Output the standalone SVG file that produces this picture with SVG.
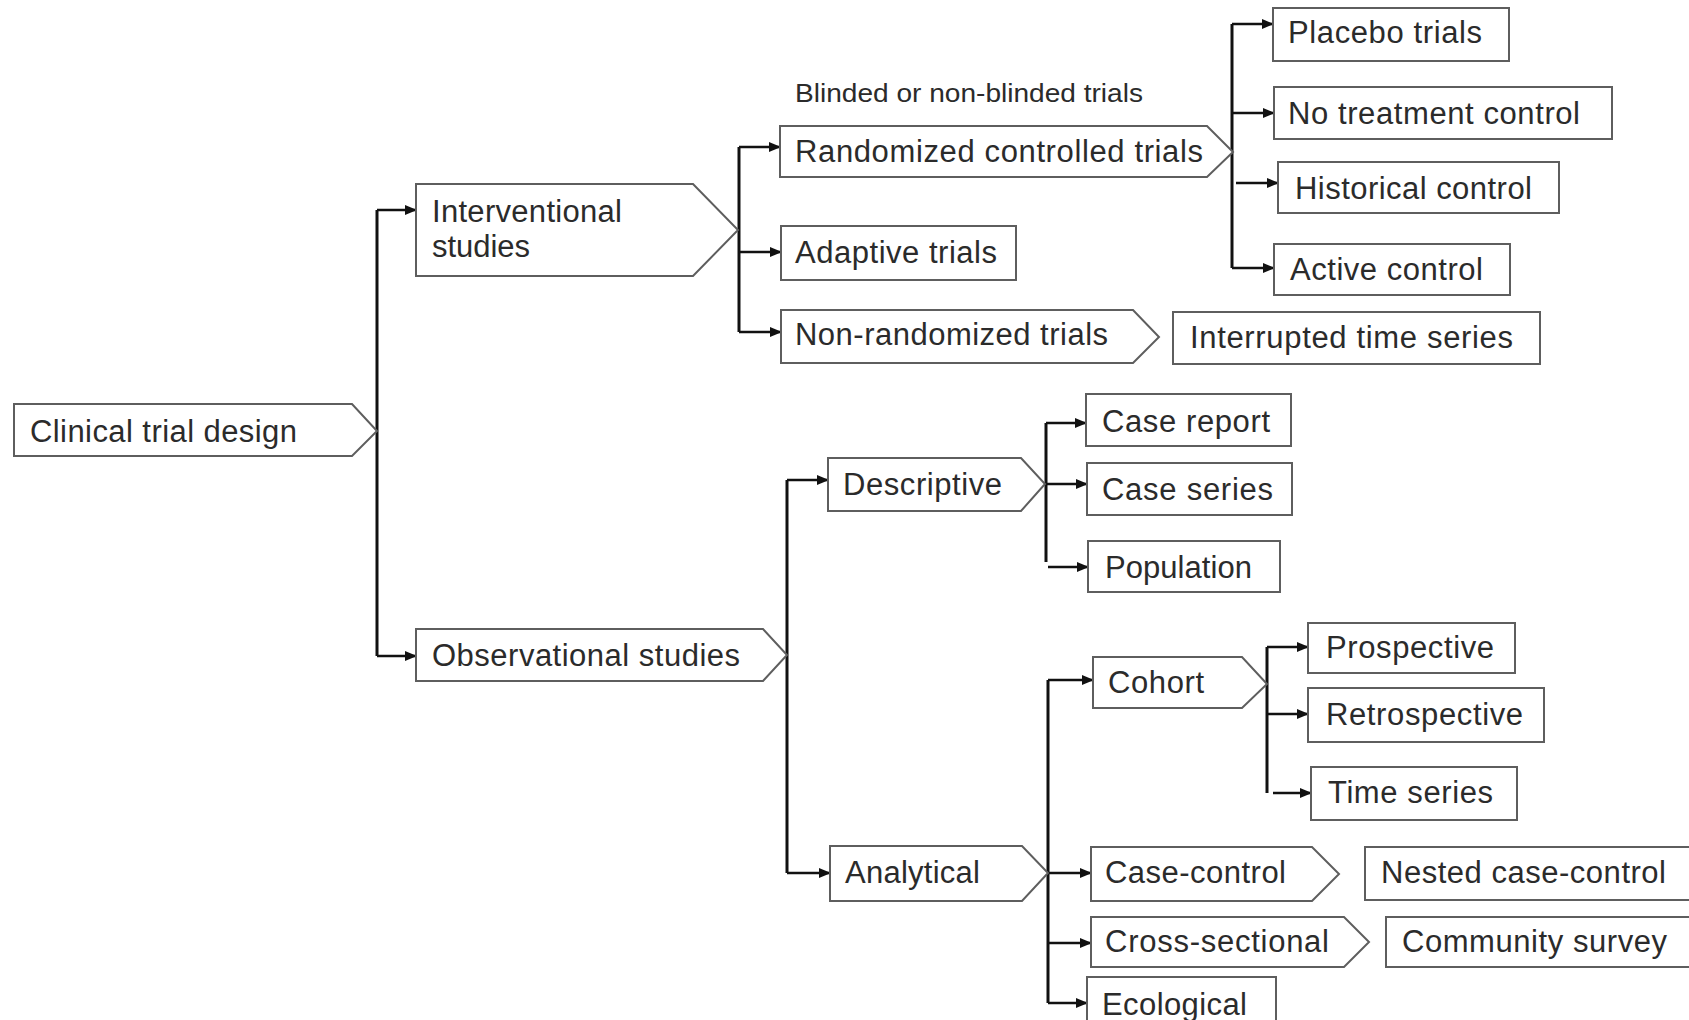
<svg xmlns="http://www.w3.org/2000/svg" width="1689" height="1020" viewBox="0 0 1689 1020">
<defs>
<style>
.box{fill:#fff;stroke:#5e5e5e;stroke-width:2}
.t{font-family:"Liberation Sans",Arial,sans-serif;font-size:31px;fill:#2b2b2b}
.s{font-family:"Liberation Sans",Arial,sans-serif;font-size:25px;fill:#2b2b2b}
.c{fill:none;stroke:#111;stroke-width:3}
.a{fill:none;stroke:#111;stroke-width:2.5;marker-end:url(#ah)}
</style>
<marker id="ah" markerUnits="userSpaceOnUse" markerWidth="12" markerHeight="10" refX="11" refY="5" orient="auto">
<path d="M0,0 L12,5 L0,10 Z" fill="#111"/>
</marker>
</defs>
<rect width="1689" height="1020" fill="#fff"/>

<g id="connectors">
<path class="c" d="M377,210 V656"/>
<path class="a" d="M377,210 H416"/>
<path class="a" d="M377,656 H416"/>

<path class="c" d="M739,147 V332"/>
<path class="a" d="M739,147 H780"/>
<path class="a" d="M739,252 H781"/>
<path class="a" d="M739,332 H781"/>

<path class="c" d="M1232,24 V268"/>
<path class="a" d="M1232,24 H1273"/>
<path class="a" d="M1232,113 H1274"/>
<path class="a" d="M1236,183 H1278"/>
<path class="a" d="M1232,268 H1274"/>

<path class="c" d="M787,480 V873"/>
<path class="a" d="M787,480 H828"/>
<path class="a" d="M787,873 H830"/>

<path class="c" d="M1046,423 V562"/>
<path class="a" d="M1046,423 H1086"/>
<path class="a" d="M1046,484 H1087"/>
<path class="a" d="M1048,567 H1088"/>

<path class="c" d="M1048,680 V1003"/>
<path class="a" d="M1048,680 H1093"/>
<path class="a" d="M1048,873 H1091"/>
<path class="a" d="M1048,943 H1091"/>
<path class="a" d="M1048,1003 H1087"/>

<path class="c" d="M1267,647 V793"/>
<path class="a" d="M1267,647 H1308"/>
<path class="a" d="M1267,714 H1308"/>
<path class="a" d="M1273,793 H1311"/>
</g>

<g id="clinical">
<polygon class="box" points="14,404 352,404 377,431 352,456 14,456"/>
<text class="t" x="30" y="442" textLength="267" lengthAdjust="spacing">Clinical trial design</text>
</g>
<g id="interventional">
<polygon class="box" points="416,184 693,184 738,230 693,276 416,276"/>
<text class="t" x="432" y="222" textLength="190" lengthAdjust="spacing">Interventional</text>
<text class="t" x="432" y="257" textLength="98" lengthAdjust="spacing">studies</text>
</g>
<g id="observational">
<polygon class="box" points="416,629 763,629 787,655 763,681 416,681"/>
<text class="t" x="432" y="666" textLength="308" lengthAdjust="spacing">Observational studies</text>
</g>

<g id="blinded-label">
<text class="s" x="795" y="102" textLength="348" lengthAdjust="spacingAndGlyphs">Blinded or non-blinded trials</text>
</g>
<g id="rct">
<polygon class="box" points="780,126 1207,126 1233,152 1207,177 780,177"/>
<text class="t" x="795" y="162" textLength="408" lengthAdjust="spacing">Randomized  controlled  trials</text>
</g>
<g id="adaptive">
<rect class="box" x="781" y="226" width="235" height="54"/>
<text class="t" x="795" y="263" textLength="202" lengthAdjust="spacing">Adaptive  trials</text>
</g>
<g id="nonrandomized">
<polygon class="box" points="781,310 1133,310 1159,337 1133,363 781,363"/>
<text class="t" x="795" y="345" textLength="313" lengthAdjust="spacing">Non-randomized  trials</text>
</g>
<g id="interrupted">
<rect class="box" x="1173" y="312" width="367" height="52"/>
<text class="t" x="1190" y="348" textLength="323" lengthAdjust="spacing">Interrupted  time  series</text>
</g>

<g id="placebo">
<rect class="box" x="1273" y="8" width="236" height="53"/>
<text class="t" x="1288" y="43" textLength="194" lengthAdjust="spacing">Placebo trials</text>
</g>
<g id="notreatment">
<rect class="box" x="1274" y="87" width="338" height="52"/>
<text class="t" x="1288" y="124" textLength="292" lengthAdjust="spacing">No  treatment  control</text>
</g>
<g id="historical">
<rect class="box" x="1278" y="162" width="281" height="51"/>
<text class="t" x="1295" y="199" textLength="237" lengthAdjust="spacing">Historical control</text>
</g>
<g id="active">
<rect class="box" x="1274" y="244" width="236" height="51"/>
<text class="t" x="1290" y="280" textLength="193" lengthAdjust="spacing">Active control</text>
</g>

<g id="descriptive">
<polygon class="box" points="828,458 1021,458 1045,484 1021,511 828,511"/>
<text class="t" x="843" y="495" textLength="159" lengthAdjust="spacing">Descriptive</text>
</g>
<g id="casereport">
<rect class="box" x="1086" y="394" width="205" height="52"/>
<text class="t" x="1102" y="432" textLength="168" lengthAdjust="spacing">Case report</text>
</g>
<g id="caseseries">
<rect class="box" x="1087" y="463" width="205" height="52"/>
<text class="t" x="1102" y="500" textLength="171" lengthAdjust="spacing">Case series</text>
</g>
<g id="population">
<rect class="box" x="1088" y="541" width="192" height="51"/>
<text class="t" x="1105" y="578" textLength="147" lengthAdjust="spacing">Population</text>
</g>

<g id="analytical">
<polygon class="box" points="830,846 1022,846 1048,873 1022,901 830,901"/>
<text class="t" x="845" y="883" textLength="135" lengthAdjust="spacing">Analytical</text>
</g>
<g id="cohort">
<polygon class="box" points="1093,657 1242,657 1267,684 1242,708 1093,708"/>
<text class="t" x="1108" y="693" textLength="96" lengthAdjust="spacing">Cohort</text>
</g>
<g id="prospective">
<rect class="box" x="1308" y="623" width="207" height="50"/>
<text class="t" x="1326" y="658" textLength="168" lengthAdjust="spacing">Prospective</text>
</g>
<g id="retrospective">
<rect class="box" x="1308" y="688" width="236" height="54"/>
<text class="t" x="1326" y="725" textLength="197" lengthAdjust="spacing">Retrospective</text>
</g>
<g id="timeseries">
<rect class="box" x="1311" y="767" width="206" height="53"/>
<text class="t" x="1328" y="803" textLength="165" lengthAdjust="spacing">Time  series</text>
</g>
<g id="casecontrol">
<polygon class="box" points="1091,847 1312,847 1339,874 1312,901 1091,901"/>
<text class="t" x="1105" y="883" textLength="181" lengthAdjust="spacing">Case-control</text>
</g>
<g id="nested">
<rect class="box" x="1365" y="847" width="340" height="53"/>
<text class="t" x="1381" y="883" textLength="285" lengthAdjust="spacing">Nested case-control</text>
</g>
<g id="crosssectional">
<polygon class="box" points="1091,917 1344,917 1369,942 1344,967 1091,967"/>
<text class="t" x="1105" y="952" textLength="224" lengthAdjust="spacing">Cross-sectional</text>
</g>
<g id="community">
<rect class="box" x="1386" y="917" width="320" height="50"/>
<text class="t" x="1402" y="952" textLength="265" lengthAdjust="spacing">Community  survey</text>
</g>
<g id="ecological">
<rect class="box" x="1087" y="977" width="189" height="60"/>
<text class="t" x="1102" y="1015" textLength="145" lengthAdjust="spacing">Ecological</text>
</g>
</svg>
